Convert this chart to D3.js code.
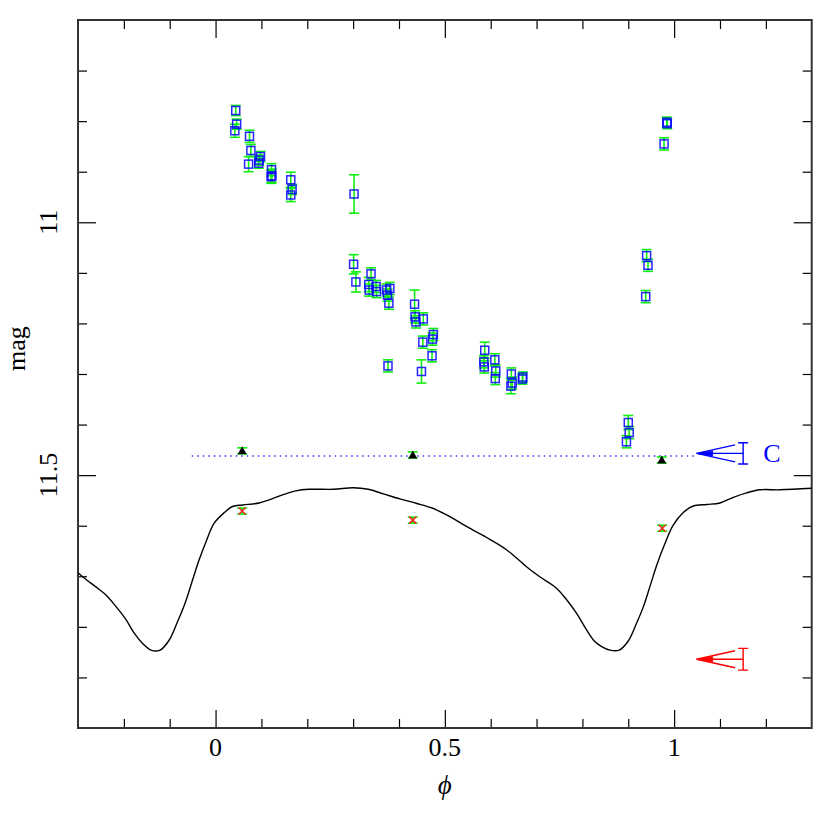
<!DOCTYPE html>
<html>
<head>
<meta charset="utf-8">
<script src="https://cdn.jsdelivr.net/npm/d3@7"></script>
<style>
  body { margin: 0; background: #fff; }
  text { font-family: "Liberation Serif", "DejaVu Serif", serif; }
</style>
</head>
<body>
<div id="root"></div>
<script>
// ---- data ----
var xMajor = [0, 0.5, 1];
var xLabels = ['0', '0.5', '1'];
var yMajor = [11, 11.5];
var yLabels = ['11', '11.5'];

// observed points (blue squares, green error bars)
var obsPhase = [0.044, 0.046, 0.042, 0.074, 0.077, 0.072, 0.098, 0.095, 0.094, 0.122, 0.123, 0.121,
  0.164, 0.167, 0.164, 0.302,
  0.301, 0.306, 0.339, 0.334, 0.350, 0.335, 0.351, 0.373, 0.380, 0.375, 0.378, 0.376,
  0.434, 0.435, 0.437, 0.453, 0.452, 0.475, 0.473, 0.472, 0.449,
  0.587, 0.585, 0.586, 0.609, 0.611, 0.610, 0.645, 0.647, 0.644, 0.670, 0.669,
  0.984, 0.985, 0.978, 0.940, 0.943, 0.938, 0.900, 0.902, 0.896];
var obsMag = [10.779, 10.806, 10.819, 10.830, 10.858, 10.885, 10.870, 10.877, 10.883, 10.896, 10.908, 10.910,
  10.916, 10.935, 10.946, 10.944,
  11.083, 11.118, 11.102, 11.123, 11.127, 11.134, 11.137, 11.134, 11.131, 11.144, 11.160, 11.284,
  11.162, 11.187, 11.197, 11.191, 11.237, 11.222, 11.231, 11.264, 11.295,
  11.253, 11.276, 11.286, 11.272, 11.294, 11.309, 11.300, 11.318, 11.324, 11.306, 11.310,
  10.802, 10.805, 10.845, 11.066, 11.085, 11.147, 11.396, 11.416, 11.434];
var obsErr = [0.010, 0.010, 0.013, 0.012, 0.012, 0.015, 0.010, 0.010, 0.010, 0.012, 0.013, 0.013,
  0.015, 0.010, 0.013, 0.038,
  0.019, 0.020, 0.012, 0.014, 0.012, 0.012, 0.012, 0.012, 0.012, 0.012, 0.012, 0.012,
  0.028, 0.012, 0.012, 0.012, 0.012, 0.012, 0.012, 0.012, 0.023,
  0.016, 0.012, 0.012, 0.012, 0.012, 0.012, 0.012, 0.012, 0.015, 0.010, 0.010,
  0.010, 0.010, 0.012, 0.012, 0.012, 0.012, 0.014, 0.012, 0.012];

// triangles
var triPhase = [0.058, 0.430, 0.973];
var triMag = [11.452, 11.460, 11.470];
var triErr = [0.006, 0.006, 0.006];

// crosses
var crossPhase = [0.058, 0.430, 0.974];
var crossMag = [11.571, 11.589, 11.605];
var crossErr = [0.006, 0.006, 0.006];

// model light curve
var modelPhase = [-0.300, -0.283, -0.261, -0.239, -0.217, -0.195, -0.177, -0.159, -0.141, -0.121, -0.101,
  -0.083, -0.068, -0.050, -0.036, -0.021, -0.003, 0.019, 0.037, 0.059, 0.095, 0.117, 0.146, 0.175,
  0.204, 0.257, 0.300, 0.333, 0.366, 0.402, 0.439, 0.475, 0.511, 0.548, 0.598, 0.635, 0.678, 0.707,
  0.744, 0.766, 0.787, 0.809, 0.827, 0.842, 0.860, 0.880, 0.900, 0.918, 0.933, 0.947, 0.962, 0.980,
  0.998, 1.020, 1.042, 1.071, 1.100, 1.129, 1.158, 1.187, 1.231, 1.300];
var modelMag = [11.693, 11.706, 11.721, 11.737, 11.760, 11.786, 11.813, 11.833, 11.846, 11.846, 11.826,
  11.790, 11.757, 11.707, 11.668, 11.632, 11.595, 11.574, 11.562, 11.559, 11.555, 11.549, 11.539, 11.531,
  11.528, 11.528, 11.525, 11.528, 11.537, 11.547, 11.556, 11.566, 11.582, 11.602, 11.627, 11.648, 11.681, 11.701,
  11.724, 11.747, 11.773, 11.806, 11.829, 11.839, 11.846, 11.846, 11.828, 11.793, 11.760, 11.721, 11.678, 11.635,
  11.599, 11.574, 11.561, 11.558, 11.555, 11.544, 11.535, 11.529, 11.529, 11.526];

// comparison level (dotted) and limit arrows
var compLevel = 11.462;
var compRange = [-0.052, 1.049];
var arrowMag = [11.457, 11.864];
var arrowErr = [0.021, 0.0215];
var arrowColor = ['#0000ff', '#ff0000'];
var arrowTip = 1.049, arrowWing = 1.133, arrowBar = 1.1505;
var arrowText = ['C', ''];

// ---- layout ----
var width = 830, height = 830;
var margin = { left: 78, right: 18.3, top: 20, bottom: 102 };
var svg = d3.select('#root').append('svg')
    .attr('width', width).attr('height', height);

var x = d3.scaleLinear().domain([-0.3, 1.3]).range([margin.left, width - margin.right]);
var y = d3.scaleLinear().domain([10.6, 12.0]).range([margin.top, height - margin.bottom]);

var minorX = d3.range(-2, 13).map(function (i) { return i / 10; }).filter(function (v) { return xMajor.indexOf(v) < 0; });
var minorY = d3.range(107, 120).map(function (i) { return i / 10; }).filter(function (v) { return yMajor.indexOf(v) < 0; });

function tickAxis(axis, vals, size, tr) {
  var g = svg.append('g').attr('transform', tr)
      .call(axis.tickValues(vals).tickSize(-size).tickFormat(''));
  g.select('.domain').remove();
  g.selectAll('line').attr('stroke', '#000').attr('stroke-width', 1.2);
  return g;
}
var bottomY = height - margin.bottom, rightX = width - margin.right;
tickAxis(d3.axisBottom(x), minorX, 9, 'translate(0,' + bottomY + ')');
tickAxis(d3.axisBottom(x), xMajor, 18, 'translate(0,' + bottomY + ')');
tickAxis(d3.axisTop(x), minorX, 9, 'translate(0,' + margin.top + ')');
tickAxis(d3.axisTop(x), xMajor, 18, 'translate(0,' + margin.top + ')');
tickAxis(d3.axisLeft(y), minorY, 9, 'translate(' + margin.left + ',0)');
tickAxis(d3.axisLeft(y), yMajor, 18, 'translate(' + margin.left + ',0)');
tickAxis(d3.axisRight(y), minorY, 9, 'translate(' + rightX + ',0)');
tickAxis(d3.axisRight(y), yMajor, 18, 'translate(' + rightX + ',0)');

svg.append('rect')
    .attr('x', margin.left).attr('y', margin.top)
    .attr('width', rightX - margin.left).attr('height', bottomY - margin.top)
    .attr('fill', 'none').attr('stroke', '#333').attr('stroke-width', 2);

// tick labels
svg.selectAll('.xlab').data(xMajor).enter().append('text')
    .attr('x', function (d) { return x(d); })
    .attr('y', bottomY + 28)
    .attr('text-anchor', 'middle').attr('font-size', 26)
    .text(function (d, i) { return xLabels[i]; });
svg.selectAll('.ylab').data(yMajor).enter().append('text')
    .attr('transform', function (d) { return 'translate(57,' + y(d) + ') rotate(-90)'; })
    .attr('text-anchor', 'middle').attr('font-size', 26)
    .text(function (d, i) { return yLabels[i]; });
svg.append('text')
    .attr('x', x(0.5)).attr('y', bottomY + 66)
    .attr('text-anchor', 'middle').attr('font-size', 27).attr('font-style', 'italic')
    .text('\u03d5');
svg.append('text')
    .attr('transform', 'translate(25,' + y(11.25) + ') rotate(-90)')
    .attr('text-anchor', 'middle').attr('font-size', 26)
    .text('mag');

var plot = svg.append('g');

// model curve
var modelData = modelPhase.map(function (p, i) { return [p, modelMag[i]]; });
plot.append('path').datum(modelData)
    .attr('d', d3.line().curve(d3.curveCatmullRom)
      .x(function (d) { return x(d[0]); }).y(function (d) { return y(d[1]); }))
    .attr('fill', 'none').attr('stroke', '#000').attr('stroke-width', 1.4);

// comparison dotted line
plot.append('line')
    .attr('x1', x(compRange[0])).attr('x2', x(compRange[1]))
    .attr('y1', y(compLevel)).attr('y2', y(compLevel))
    .attr('stroke', '#3333ff').attr('stroke-width', 1.5).attr('stroke-dasharray', '1.5,4');

// error bars helper
function errBars(ph, mg, er, cls) {
  var d = ph.map(function (p, i) { return { p: p, m: mg[i], e: er[i] }; });
  var g = plot.append('g').attr('stroke', '#11ee11').attr('stroke-width', 1.6);
  g.selectAll('.v' + cls).data(d).enter().append('line')
      .attr('x1', function (d) { return x(d.p); }).attr('x2', function (d) { return x(d.p); })
      .attr('y1', function (d) { return y(d.m - d.e); }).attr('y2', function (d) { return y(d.m + d.e); });
  [-1, 1].forEach(function (s) {
    g.selectAll('.c' + cls + s).data(d).enter().append('line')
        .attr('x1', function (d) { return x(d.p) - 5; }).attr('x2', function (d) { return x(d.p) + 5; })
        .attr('y1', function (d) { return y(d.m + s * d.e); }).attr('y2', function (d) { return y(d.m + s * d.e); });
  });
  return d;
}

var obs = errBars(obsPhase, obsMag, obsErr, 'o');
plot.selectAll('.sq').data(obs).enter().append('rect')
    .attr('x', function (d) { return x(d.p) - 4; })
    .attr('y', function (d) { return y(d.m) - 4; })
    .attr('width', 8).attr('height', 8)
    .attr('fill', 'none').attr('stroke', '#0000ff').attr('stroke-width', 1.5).attr('stroke-opacity', 0.85);

var tri = errBars(triPhase, triMag, triErr, 't');
plot.selectAll('.tri').data(tri).enter().append('path')
    .attr('d', function (d) {
      var cx = x(d.p), cy = y(d.m);
      return 'M' + (cx - 4.5) + ',' + (cy + 3.5) + 'L' + (cx + 4.5) + ',' + (cy + 3.5) + 'L' + cx + ',' + (cy - 4.5) + 'Z';
    })
    .attr('fill', '#000');

var crs = errBars(crossPhase, crossMag, crossErr, 'x');
plot.selectAll('.crs').data(crs).enter().append('path')
    .attr('d', function (d) {
      var cx = x(d.p), cy = y(d.m);
      return 'M' + (cx - 3.5) + ',' + (cy - 3.5) + 'L' + (cx + 3.5) + ',' + (cy + 3.5) +
        'M' + (cx - 3.5) + ',' + (cy + 3.5) + 'L' + (cx + 3.5) + ',' + (cy - 3.5);
    })
    .attr('stroke', '#ff2222').attr('stroke-width', 1.5).attr('fill', 'none');

// limit arrows
arrowMag.forEach(function (m, i) {
  var g = svg.append('g').attr('stroke', arrowColor[i]).attr('stroke-width', 1.4).attr('fill', 'none');
  var tx = x(arrowTip), wx = x(arrowWing), bx = x(arrowBar), cy = y(m);
  g.append('path').attr('d', 'M' + wx + ',' + (cy - 8.5) + 'L' + tx + ',' + cy + 'L' + wx + ',' + (cy + 8.5) +
    'M' + tx + ',' + cy + 'L' + bx + ',' + cy);
  g.append('path').attr('d', 'M' + tx + ',' + cy + 'L' + (tx + 16) + ',' + (cy - 2.5) + 'L' + (tx + 16) + ',' + (cy + 2.5) + 'Z')
      .attr('fill', arrowColor[i]).attr('stroke-width', 0.8);
  g.append('path').attr('d', 'M' + bx + ',' + y(m - arrowErr[i]) + 'L' + bx + ',' + y(m + arrowErr[i]) +
    'M' + (bx - 5) + ',' + y(m - arrowErr[i]) + 'L' + (bx + 5) + ',' + y(m - arrowErr[i]) +
    'M' + (bx - 5) + ',' + y(m + arrowErr[i]) + 'L' + (bx + 5) + ',' + y(m + arrowErr[i]));
  if (arrowText[i]) {
    svg.append('text').attr('x', bx + 20).attr('y', cy + 9)
        .attr('font-size', 26).attr('fill', arrowColor[i]).text(arrowText[i]);
  }
});
</script>
</body>
</html>
